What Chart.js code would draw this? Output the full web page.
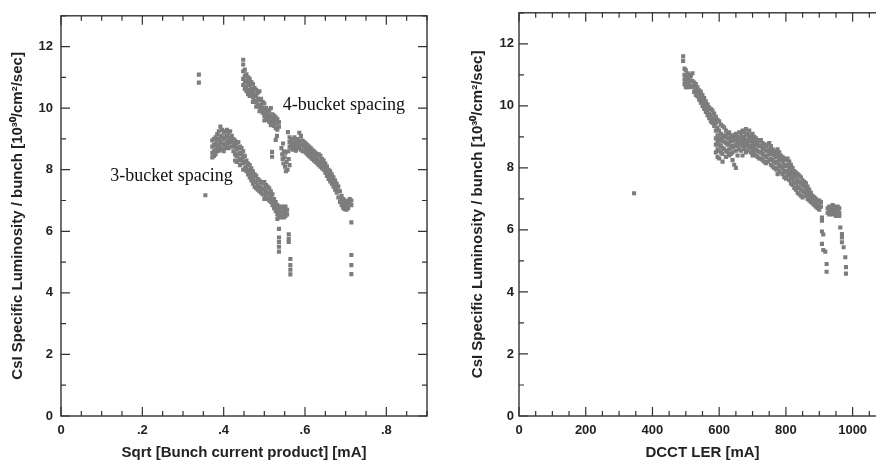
<!DOCTYPE html>
<html>
<head>
<meta charset="utf-8">
<script src="https://cdn.jsdelivr.net/npm/chart.js@4"></script>
<style>
  body { margin: 0; background: #fff; width: 876px; height: 462px; overflow: hidden; position: relative; }
  #leftBox { position: absolute; left: 0; top: 0; width: 440px; height: 462px; }
  #rightBox { position: absolute; left: 440px; top: 0; width: 460px; height: 462px; }
</style>
</head>
<body>
<div id="leftBox"><canvas id="leftChart" width="440" height="462"></canvas></div>
<div id="rightBox"><canvas id="rightChart" width="460" height="462"></canvas></div>
<script>
// each row: [x, y, y, ...]

// left panel, 4-bucket spacing
const fourBucket = [
  [0.339, 11.09, 10.83],
  [0.448, 11.57, 11.42, 11.2, 10.95, 10.75],
  [0.452, 11.25, 11.05, 10.85, 10.62],
  [0.456, 11.1, 10.9, 10.7, 10.55],
  [0.460, 11.0, 10.82, 10.6, 10.45],
  [0.464, 10.95, 10.75, 10.55, 10.4],
  [0.468, 10.85, 10.62, 10.45],
  [0.472, 10.78, 10.55, 10.35, 10.2],
  [0.476, 10.65, 10.45, 10.25],
  [0.480, 10.6, 10.4, 10.2, 10.05],
  [0.484, 10.5, 10.3, 10.1],
  [0.488, 10.55, 10.25, 10.05, 9.9],
  [0.492, 10.3, 10.1, 9.95],
  [0.496, 10.2, 10.0, 9.85],
  [0.500, 10.15, 9.95, 9.75, 9.6],
  [0.504, 10.0, 9.85, 9.7],
  [0.508, 9.95, 9.8, 9.62],
  [0.512, 9.9, 9.72, 9.55],
  [0.516, 10.0, 9.75, 9.6, 9.45],
  [0.519, 8.58, 8.42],
  [0.520, 9.8, 9.65, 9.5],
  [0.524, 9.75, 9.6, 9.42],
  [0.528, 9.7, 9.55, 9.35, 8.97],
  [0.531, 9.1],
  [0.532, 9.65, 9.5, 9.3],
  [0.536, 9.55, 9.4],
  [0.542, 8.7],
  [0.544, 8.5],
  [0.545, 8.35],
  [0.546, 8.85],
  [0.547, 8.2],
  [0.548, 8.6],
  [0.550, 8.4],
  [0.551, 8.1],
  [0.552, 8.55],
  [0.553, 7.95],
  [0.555, 8.25],
  [0.557, 8.0],
  [0.558, 9.22],
  [0.559, 8.6],
  [0.560, 8.35],
  [0.562, 9.05, 8.9, 8.75, 8.15],
  [0.566, 9.0, 8.85, 8.7],
  [0.570, 8.95, 8.8, 8.65],
  [0.574, 9.05, 8.9, 8.7],
  [0.578, 8.95, 8.8, 8.62],
  [0.582, 9.0, 8.85, 8.7],
  [0.586, 9.2, 8.9, 8.75],
  [0.590, 9.1, 8.95, 8.8, 8.65],
  [0.594, 8.95, 8.8, 8.6],
  [0.598, 8.9, 8.75, 8.6],
  [0.602, 8.85, 8.7, 8.55],
  [0.606, 8.8, 8.65, 8.5],
  [0.610, 8.75, 8.6, 8.45],
  [0.614, 8.7, 8.55, 8.4],
  [0.618, 8.65, 8.5, 8.35],
  [0.622, 8.6, 8.45, 8.3],
  [0.626, 8.55, 8.4, 8.25],
  [0.630, 8.5, 8.35, 8.2],
  [0.634, 8.5, 8.3, 8.15],
  [0.638, 8.45, 8.25, 8.1],
  [0.642, 8.35, 8.2, 8.05],
  [0.646, 8.3, 8.15, 8.0],
  [0.650, 8.2, 8.05, 7.9],
  [0.654, 8.1, 7.95, 7.8],
  [0.658, 8.0, 7.85, 7.7],
  [0.662, 7.95, 7.8, 7.62],
  [0.666, 7.85, 7.7, 7.55],
  [0.670, 7.75, 7.6, 7.45],
  [0.674, 7.65, 7.5, 7.35],
  [0.678, 7.55, 7.4, 7.25],
  [0.682, 7.45, 7.3, 7.1],
  [0.686, 7.3, 7.1, 6.95],
  [0.690, 7.15, 6.98, 6.85],
  [0.694, 7.05, 6.9, 6.75],
  [0.698, 7.0, 6.85, 6.72],
  [0.702, 6.95, 6.82, 6.7],
  [0.706, 6.98, 6.85, 6.75],
  [0.710, 7.05, 6.9],
  [0.714, 7.0, 6.85, 6.29, 5.23, 4.9, 4.61]
];

// left panel, 3-bucket spacing
const threeBucket = [
  [0.355, 7.17],
  [0.372, 8.95, 8.75, 8.55, 8.4],
  [0.376, 9.0, 8.8, 8.6, 8.45],
  [0.380, 9.05, 8.85, 8.65, 8.5],
  [0.384, 9.15, 8.95, 8.75, 8.6],
  [0.388, 9.25, 9.0, 8.8, 8.62],
  [0.392, 9.4, 9.1, 8.9, 8.7],
  [0.396, 9.3, 9.05, 8.85, 8.65],
  [0.400, 9.2, 9.0, 8.8, 8.6],
  [0.404, 9.25, 9.05, 8.85, 8.7],
  [0.408, 9.3, 9.1, 8.9, 8.75],
  [0.412, 9.2, 9.0, 8.85, 8.7],
  [0.416, 9.25, 9.05, 8.9],
  [0.420, 9.1, 8.95, 8.75],
  [0.424, 9.0, 8.85, 8.6],
  [0.428, 8.95, 8.75, 8.5, 8.3],
  [0.432, 8.85, 8.65, 8.45, 8.25],
  [0.436, 8.9, 8.7, 8.5, 8.3],
  [0.440, 8.75, 8.55, 8.35, 8.15],
  [0.444, 8.7, 8.5, 8.3],
  [0.448, 8.6, 8.4, 8.2, 8.0],
  [0.452, 8.45, 8.25, 8.05],
  [0.456, 8.3, 8.1, 7.95],
  [0.460, 8.2, 8.0, 7.85],
  [0.464, 8.15, 7.95, 7.75],
  [0.468, 8.05, 7.85, 7.65],
  [0.472, 7.95, 7.75, 7.55],
  [0.476, 7.85, 7.65, 7.45],
  [0.480, 7.8, 7.6, 7.4],
  [0.484, 7.7, 7.5, 7.35],
  [0.488, 7.65, 7.45, 7.3],
  [0.492, 7.6, 7.4, 7.25],
  [0.496, 7.55, 7.35, 7.2],
  [0.500, 7.6, 7.4, 7.2, 7.05],
  [0.504, 7.5, 7.3, 7.12],
  [0.508, 7.45, 7.25, 7.05],
  [0.512, 7.4, 7.2, 7.0],
  [0.516, 7.3, 7.1, 6.95],
  [0.520, 7.2, 7.0, 6.85],
  [0.524, 7.05, 6.9, 6.75],
  [0.528, 6.95, 6.8, 6.65],
  [0.532, 6.85, 6.7, 6.55, 6.4],
  [0.536, 6.8, 6.65, 6.5, 6.08, 5.8, 5.65, 5.5, 5.34],
  [0.540, 6.75, 6.6, 6.45],
  [0.544, 6.8, 6.62, 6.48],
  [0.548, 6.75, 6.6, 6.45],
  [0.552, 6.8, 6.65, 6.5],
  [0.556, 6.7, 6.55],
  [0.560, 5.9, 5.75, 5.65],
  [0.564, 5.1, 4.9, 4.75, 4.6]
];

// right panel, luminosity vs DCCT LER current
const lerPoints = [
  [345, 7.18],
  [492, 11.6, 11.45],
  [496, 11.2, 11.0, 10.85, 10.7],
  [500, 11.15, 10.95, 10.8, 10.6],
  [505, 11.05, 10.9, 10.75, 10.6],
  [510, 11.0, 10.85, 10.7],
  [515, 10.95, 10.8, 10.6],
  [520, 11.05, 10.8, 10.65],
  [525, 10.75, 10.6, 10.45],
  [530, 10.7, 10.5, 10.35],
  [535, 10.6, 10.45, 10.3],
  [540, 10.5, 10.35, 10.2],
  [545, 10.45, 10.25, 10.1],
  [550, 10.35, 10.15, 10.0],
  [555, 10.25, 10.05, 9.9],
  [560, 10.15, 9.95, 9.8],
  [565, 10.05, 9.85, 9.7],
  [570, 9.95, 9.75, 9.6],
  [575, 9.9, 9.7, 9.5],
  [580, 9.85, 9.6, 9.45],
  [585, 9.75, 9.55, 9.35],
  [590, 9.65, 9.45, 9.2, 8.95, 8.75, 8.5],
  [595, 9.55, 9.3, 9.05, 8.85, 8.6, 8.35],
  [600, 9.5, 9.2, 8.95, 8.75, 8.55, 8.3],
  [605, 9.4, 9.1, 8.9, 8.7, 8.5],
  [610, 9.35, 9.0, 8.85, 8.65, 8.45, 8.2],
  [615, 9.3, 9.05, 8.85, 8.6],
  [620, 9.2, 9.0, 8.8, 8.55, 8.35],
  [625, 9.1, 8.95, 8.75, 8.5],
  [630, 9.15, 8.95, 8.8, 8.6, 8.4],
  [635, 9.05, 8.9, 8.7, 8.45],
  [640, 9.0, 8.85, 8.65, 8.5, 8.25],
  [645, 9.05, 8.9, 8.7, 8.1],
  [650, 9.1, 8.95, 8.75, 8.55, 8.0],
  [655, 9.0, 8.85, 8.7, 8.4],
  [660, 9.15, 8.95, 8.8, 8.6],
  [665, 9.1, 8.95, 8.75, 8.55],
  [670, 9.2, 9.0, 8.85, 8.7, 8.4],
  [675, 9.15, 8.95, 8.8, 8.6],
  [680, 9.25, 9.05, 8.85, 8.7, 8.5],
  [685, 9.1, 8.9, 8.75, 8.55],
  [690, 9.2, 9.0, 8.85, 8.65],
  [695, 9.05, 8.9, 8.7, 8.5],
  [700, 9.1, 8.95, 8.8, 8.6, 8.4],
  [705, 9.0, 8.85, 8.7, 8.5],
  [710, 8.95, 8.8, 8.6, 8.4],
  [715, 8.9, 8.75, 8.55, 8.35],
  [720, 8.85, 8.7, 8.5, 8.3],
  [725, 8.9, 8.7, 8.5, 8.3],
  [730, 8.8, 8.6, 8.45, 8.25],
  [735, 8.75, 8.6, 8.4, 8.2],
  [740, 8.7, 8.55, 8.35, 8.15],
  [745, 8.75, 8.55, 8.4, 8.2],
  [750, 8.8, 8.6, 8.45, 8.25],
  [755, 8.7, 8.5, 8.3, 8.1],
  [760, 8.6, 8.45, 8.25, 8.05],
  [765, 8.55, 8.4, 8.2, 8.0],
  [770, 8.5, 8.35, 8.15, 7.95],
  [775, 8.6, 8.4, 8.2, 8.0, 7.8],
  [780, 8.5, 8.3, 8.1, 7.9],
  [785, 8.4, 8.25, 8.05, 7.85],
  [790, 8.35, 8.2, 8.0, 7.8],
  [795, 8.3, 8.1, 7.9, 7.7],
  [800, 8.25, 8.05, 7.85, 7.65],
  [805, 8.3, 8.1, 7.9, 7.75],
  [810, 8.2, 8.0, 7.8, 7.6],
  [815, 8.1, 7.9, 7.7, 7.5],
  [820, 8.0, 7.8, 7.65, 7.45],
  [825, 7.9, 7.75, 7.55, 7.35],
  [830, 7.85, 7.7, 7.5, 7.3],
  [835, 7.8, 7.6, 7.4, 7.2],
  [840, 7.75, 7.55, 7.35, 7.15],
  [845, 7.7, 7.5, 7.3, 7.1],
  [850, 7.6, 7.45, 7.25, 7.05],
  [855, 7.55, 7.4, 7.2],
  [860, 7.5, 7.3, 7.1],
  [865, 7.4, 7.2, 7.0],
  [870, 7.3, 7.1, 6.95],
  [875, 7.2, 7.05, 6.9],
  [880, 7.1, 6.95, 6.85],
  [885, 7.05, 6.9, 6.8],
  [890, 7.0, 6.85, 6.75],
  [895, 6.95, 6.8, 6.7],
  [900, 6.95, 6.8, 6.65],
  [905, 6.9, 6.75],
  [908, 6.4, 6.3, 5.95, 5.55],
  [912, 5.85, 5.35],
  [918, 5.3],
  [922, 4.9, 4.65],
  [925, 6.7, 6.55],
  [930, 6.75, 6.6, 6.5],
  [935, 6.7, 6.55],
  [940, 6.8, 6.65, 6.5],
  [945, 6.75, 6.6],
  [950, 6.7, 6.55, 6.45],
  [955, 6.75, 6.6],
  [960, 6.7, 6.55, 6.45],
  [963, 6.08],
  [968, 5.87, 5.76, 5.6],
  [973, 5.44],
  [978, 5.12],
  [980, 4.8, 4.59]
];

const leftXLabels = ['0', '.2', '.4', '.6', '.8'];
const rightXLabels = ['0', '200', '400', '600', '800', '1000'];
const yLabels = ['0', '2', '4', '6', '8', '10', '12'];

const notes = [
  { text: '4-bucket spacing', x: 0.545, y: 10.1 },
  { text: '3-bucket spacing', x: 0.121, y: 7.8 }
];

function toPoints(cols) {
  const out = [];
  cols.forEach(c => c.slice(1).forEach(v => out.push({ x: c[0], y: v })));
  return out;
}

const dotColor = '#7d7d7d';
const inkColor = '#222';
const tickFont = { family: 'Liberation Sans', size: 13, weight: 'bold' };
const titleFont = { family: 'Liberation Sans', size: 15, weight: 'bold' };

// frame plus inward ticks, positioned by the scales
const frameTicks = {
  id: 'frameTicks',
  afterDatasetsDraw(chart, args, opts) {
    const { ctx, chartArea: a, scales: { x, y } } = chart;
    ctx.save();
    ctx.strokeStyle = '#333';
    ctx.lineWidth = 1.4;
    ctx.strokeRect(a.left, a.top, a.right - a.left, a.bottom - a.top);
    ctx.lineWidth = 1.2;
    ctx.beginPath();
    x.ticks.forEach(t => {
      const p = x.getPixelForValue(t.value);
      const len = t.label ? 9 : 5;
      ctx.moveTo(p, a.bottom); ctx.lineTo(p, a.bottom - len);
      ctx.moveTo(p, a.top); ctx.lineTo(p, a.top + len);
    });
    y.ticks.forEach(t => {
      const p = y.getPixelForValue(t.value);
      const len = t.label ? 9 : 5;
      ctx.moveTo(a.left, p); ctx.lineTo(a.left + len, p);
      if (opts.rightTicks) { ctx.moveTo(a.right, p); ctx.lineTo(a.right - len, p); }
    });
    ctx.stroke();
    (opts.notes || []).forEach(n => {
      ctx.font = '18px "Liberation Serif"';
      ctx.fillStyle = '#111';
      ctx.textBaseline = 'middle';
      ctx.textAlign = 'left';
      ctx.fillText(n.text, x.getPixelForValue(n.x), y.getPixelForValue(n.y));
    });
    ctx.restore();
  }
};

function labelAt(list, step) {
  return v => {
    const k = Math.round(v / step);
    if (Math.abs(v / step - k) > 1e-6) return '';
    return list[k] !== undefined ? list[k] : '';
  };
}

function makeChart(id, datasets, cfg) {
  return new Chart(document.getElementById(id), {
    type: 'scatter',
    data: { datasets: datasets },
    options: {
      responsive: false,
      animation: false,
      devicePixelRatio: 1,
      layout: { padding: { left: 0, right: cfg.padRight, top: 10, bottom: 0 } },
      plugins: {
        legend: { display: false },
        tooltip: { enabled: false },
        frameTicks: { notes: cfg.notes, rightTicks: cfg.rightTicks }
      },
      elements: {
        point: { pointStyle: 'rect', radius: 2.9, borderWidth: 0, backgroundColor: dotColor }
      },
      scales: {
        x: {
          type: 'linear', min: 0, max: cfg.xMax,
          afterFit(s) { s.height = 46; },
          grid: { display: false, drawTicks: false },
          border: { display: false },
          ticks: {
            stepSize: cfg.xMinor, autoSkip: false, maxRotation: 0, padding: 7,
            color: inkColor, font: tickFont,
            callback: labelAt(cfg.xLabels, cfg.xMajor)
          },
          title: { display: true, text: cfg.xTitle, color: inkColor, font: titleFont, padding: { top: 0, bottom: 0 } }
        },
        y: {
          type: 'linear', min: 0, max: 13,
          afterFit(s) { s.width = cfg.yWidth; },
          grid: { display: false, drawTicks: false },
          border: { display: false },
          ticks: {
            stepSize: 1, autoSkip: false, padding: cfg.yPad,
            color: inkColor, font: tickFont,
            callback: labelAt(yLabels, 2)
          },
          title: {
            display: true, text: 'CsI Specific Luminosity / bunch [10³⁰/cm²/sec]',
            color: inkColor, font: titleFont, padding: { top: cfg.yTitlePad, bottom: 0 }
          }
        }
      }
    },
    plugins: [frameTicks]
  });
}

makeChart('leftChart', [
  { label: '4-bucket spacing', data: toPoints(fourBucket) },
  { label: '3-bucket spacing', data: toPoints(threeBucket) }
], {
  xMax: 0.9, xMinor: 0.05, xMajor: 0.2, xLabels: leftXLabels,
  xTitle: 'Sqrt [Bunch current product] [mA]',
  padRight: 13, yWidth: 61, yPad: 8, yTitlePad: 9, notes: notes, rightTicks: true
});

makeChart('rightChart', [
  { label: 'DCCT LER', data: toPoints(lerPoints) }
], {
  xMax: 1100, xMinor: 50, xMajor: 200, xLabels: rightXLabels,
  xTitle: 'DCCT LER [mA]',
  padRight: 14, yWidth: 79, yPad: 5, yTitlePad: 29, notes: [], rightTicks: false
});
</script>
</body>
</html>
